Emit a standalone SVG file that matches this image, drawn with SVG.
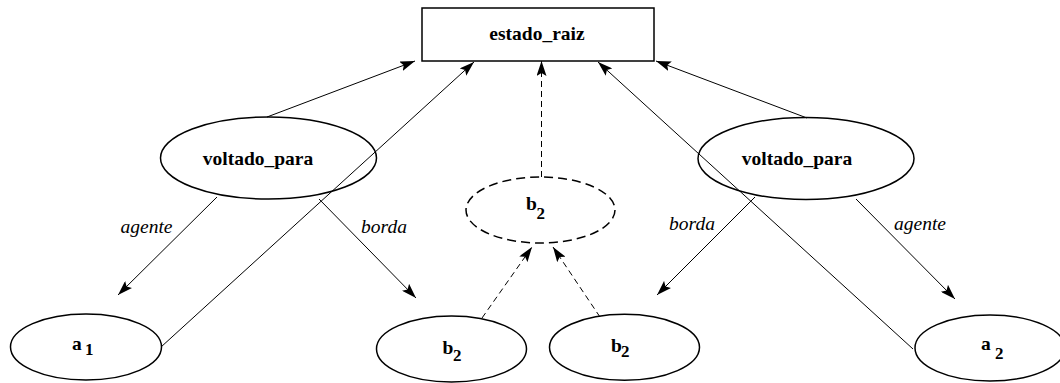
<svg xmlns="http://www.w3.org/2000/svg" width="1060" height="383" viewBox="0 0 1060 383">
<style>
.node{fill:#fff;stroke:#000;stroke-width:1.5}
.dnode{fill:#fff;stroke:#000;stroke-width:1.5;stroke-dasharray:9,5}
.lbl{font-family:'Liberation Serif',serif;font-weight:bold;font-size:19.5px;fill:#000}
.sub{font-family:'Liberation Serif',serif;font-weight:bold;font-size:17px;fill:#000}
.elbl{font-family:'Liberation Serif',serif;font-style:italic;font-size:19.5px;fill:#000}
.edge{fill:none;stroke:#000;stroke-width:1}
.dedge{fill:none;stroke:#000;stroke-width:1;stroke-dasharray:6,4}
</style>
<defs>
<marker id="ah" markerUnits="userSpaceOnUse" markerWidth="16" markerHeight="10" refX="15" refY="5" orient="auto">
<path d="M0,0 L15,5 L0,10 L3,5 z" fill="#000"/>
</marker>
</defs>
<rect width="1060" height="383" fill="#fff"/>
<g id="estado_raiz">
<rect class="node" x="422" y="8" width="232" height="53"/>
<text class="lbl" x="537" y="39.5" text-anchor="middle">estado_raiz</text>
</g>
<g id="voltado_para_1">
<ellipse class="node" cx="268.5" cy="158" rx="108" ry="41"/>
<text class="lbl" x="258" y="165" text-anchor="middle">voltado_para</text>
</g>
<g id="voltado_para_2">
<ellipse class="node" cx="806" cy="158.5" rx="108" ry="41"/>
<text class="lbl" x="797" y="165" text-anchor="middle">voltado_para</text>
</g>
<g id="b2_dashed">
<ellipse class="dnode" cx="540.5" cy="210" rx="74.5" ry="33"/>
<text class="lbl" x="526" y="210">b</text>
<text class="sub" x="536.5" y="219">2</text>
</g>
<g id="a1">
<ellipse class="node" cx="86" cy="347" rx="75.5" ry="33"/>
<text class="lbl" x="72" y="350">a</text>
<text class="sub" x="85" y="355">1</text>
</g>
<g id="b2_left">
<ellipse class="node" cx="451.5" cy="349" rx="75" ry="33"/>
<text class="lbl" x="442.5" y="353.5">b</text>
<text class="sub" x="453" y="361">2</text>
</g>
<g id="b2_right">
<ellipse class="node" cx="624.5" cy="347.3" rx="75" ry="33"/>
<text class="lbl" x="611" y="351.5">b</text>
<text class="sub" x="621" y="357">2</text>
</g>
<g id="a2">
<ellipse class="node" cx="990" cy="348" rx="75" ry="33"/>
<text class="lbl" x="981" y="350">a</text>
<text class="sub" x="995" y="359">2</text>
</g>
<g id="connectors">
<line class="edge" x1="267" y1="117" x2="415" y2="61" marker-end="url(#ah)"/>
<line class="edge" x1="161" y1="347" x2="474" y2="62" marker-end="url(#ah)"/>
<line class="dedge" x1="541.5" y1="177" x2="541.5" y2="61" marker-end="url(#ah)"/>
<line class="edge" x1="913" y1="349" x2="598" y2="62" marker-end="url(#ah)"/>
<line class="edge" x1="807" y1="118" x2="656" y2="61" marker-end="url(#ah)"/>
<line class="edge" x1="217" y1="197" x2="118" y2="295" marker-end="url(#ah)"/>
<line class="edge" x1="319" y1="199" x2="416" y2="298" marker-end="url(#ah)"/>
<line class="edge" x1="755" y1="197" x2="657" y2="295" marker-end="url(#ah)"/>
<line class="edge" x1="856" y1="199" x2="955" y2="299" marker-end="url(#ah)"/>
<line class="dedge" x1="482" y1="318" x2="532" y2="247" marker-end="url(#ah)"/>
<line class="dedge" x1="600" y1="317" x2="553" y2="247" marker-end="url(#ah)"/>
<text class="elbl" x="146.5" y="233" text-anchor="middle">agente</text>
<text class="elbl" x="384" y="233" text-anchor="middle">borda</text>
<text class="elbl" x="692" y="230" text-anchor="middle">borda</text>
<text class="elbl" x="920" y="230" text-anchor="middle">agente</text>
</g>
</svg>
